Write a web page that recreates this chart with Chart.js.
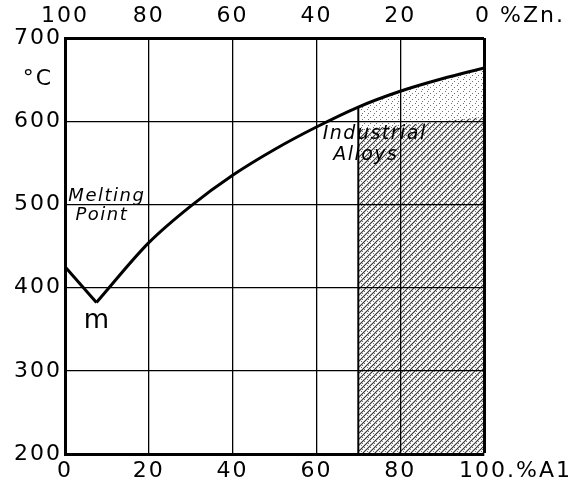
<!DOCTYPE html>
<html>
<head>
<meta charset="utf-8"/>
<title>Al-Zn melting point</title>
<script src="https://cdn.jsdelivr.net/npm/chart.js@4.4.1/dist/chart.umd.min.js"></script>
<style>
html,body{margin:0;padding:0;background:#fff;}
#wrap{width:573px;height:484px;}
</style>
</head>
<body>
<div id="wrap"><canvas id="chart"></canvas></div>
<script>
// % Al along the bottom, melting point in degrees C
var leftAl = [0, 7.5];
var leftTemp = [425, 382];
var curveAl = [7.5, 20, 30, 40, 50, 60, 70, 80, 90, 100];
var curveTemp = [382, 454, 498, 535, 566, 593, 617, 636, 651, 664];
// industrial alloys band (70 - 100 % Al)
var alloyAl = [70, 80, 90, 100];
var alloyTemp = [617, 636, 651, 664];
var hatchTop = [590, 595, 600, 605];
var xTicks = [0, 20, 40, 60, 80, 100];
var yTicks = [200, 300, 400, 500, 600, 700];

function pts(xs, ys){
  var out = [];
  for(var i = 0; i < xs.length; i++) out.push({x: xs[i], y: ys[i]});
  return out;
}

function makePattern(kind){
  var c = document.createElement('canvas');
  c.width = 6; c.height = 6;
  var g = c.getContext('2d');
  if(kind == 'hatch'){
    g.strokeStyle = 'rgba(0,0,0,0.8)';
    g.lineWidth = 1.2;
    g.beginPath();
    g.moveTo(0, 6); g.lineTo(6, 0);
    g.moveTo(-1, 1); g.lineTo(1, -1);
    g.moveTo(5, 7); g.lineTo(7, 5);
    g.stroke();
  }else{
    g.fillStyle = 'rgba(0,0,0,0.55)';
    g.fillRect(1, 1, 1, 1);
    g.fillRect(4, 3, 1, 1);
    g.fillRect(2, 5, 1, 1);
  }
  return g.createPattern(c, 'repeat');
}

var FONT = 'DejaVu Sans';
var spacing = {
  id: 'spacing',
  beforeLayout: function(chart){ chart.ctx.letterSpacing = '2px'; },
  beforeDraw: function(chart){ chart.ctx.letterSpacing = '2px'; }
};

var notes = {
  id: 'notes',
  afterDatasetsDraw: function(chart){
    var ctx = chart.ctx, x = chart.scales.x, y = chart.scales.y;
    ctx.save();
    ctx.fillStyle = '#000';
    ctx.textBaseline = 'alphabetic';
    ctx.letterSpacing = '1.5px';
    ctx.font = 'italic 18px ' + FONT;
    ctx.textAlign = 'left';
    ctx.fillText('Melting', x.getPixelForValue(0.8), y.getPixelForValue(504));
    ctx.fillText('Point', x.getPixelForValue(2.5), y.getPixelForValue(481));
    ctx.font = 'italic 19px ' + FONT;
    ctx.fillText('Industrial', x.getPixelForValue(61.5), y.getPixelForValue(579));
    ctx.fillText('Alloys', x.getPixelForValue(64), y.getPixelForValue(553));
    ctx.letterSpacing = '0px';
    ctx.font = '26px ' + FONT;
    ctx.textAlign = 'center';
    ctx.fillText('m', x.getPixelForValue(7.5), y.getPixelForValue(351));
    ctx.restore();
  }
};

new Chart(document.getElementById('chart'), {
  type: 'scatter',
  data: {
    datasets: [
      {
        data: pts(alloyAl, alloyTemp),
        showLine: true, borderWidth: 0, pointRadius: 0,
        backgroundColor: makePattern('dots'), fill: 'start'
      },
      {
        data: pts(alloyAl, hatchTop),
        showLine: true, borderWidth: 0, pointRadius: 0,
        backgroundColor: makePattern('hatch'), fill: 'start'
      },
      {
        data: pts([70, 70], [200, alloyTemp[0]]),
        showLine: true, borderColor: '#000', borderWidth: 2, pointRadius: 0
      },
      {
        data: pts(leftAl, leftTemp),
        showLine: true, borderColor: '#000', borderWidth: 3, pointRadius: 0
      },
      {
        data: pts(curveAl, curveTemp),
        showLine: true, borderColor: '#000', borderWidth: 3, pointRadius: 0,
        cubicInterpolationMode: 'monotone'
      }
    ]
  },
  options: {
    responsive: true,
    maintainAspectRatio: false,
    animation: false,
    layout: { padding: { left: 0, right: 89, top: 0, bottom: 0 } },
    plugins: { legend: { display: false }, tooltip: { enabled: false } },
    scales: {
      x: {
        type: 'linear', position: 'bottom', min: 0, max: 100,
        afterBuildTicks: function(s){ s.ticks = xTicks.map(function(v){ return {value: v}; }); },
        afterFit: function(s){ s.height = 30; s.paddingLeft = 0; s.paddingRight = 0; },
        grid: {
          color: '#000',
          lineWidth: function(c){ return c.tick && c.tick.value == 100 ? 3 : 1.3; },
          drawTicks: false
        },
        border: { color: '#000', width: 3 },
        ticks: {
          maxRotation: 0, autoSkip: false, padding: 4, color: '#000',
          font: { family: FONT, size: 22 },
          callback: function(v){ return v == 100 ? '       100.%A1' : String(v); }
        }
      },
      x2: {
        type: 'linear', position: 'top', min: 0, max: 100, reverse: true,
        afterBuildTicks: function(s){ s.ticks = xTicks.map(function(v){ return {value: v}; }); },
        afterFit: function(s){ s.height = 38; s.paddingLeft = 0; s.paddingRight = 0; },
        grid: { display: false, drawTicks: false },
        border: { display: false },
        ticks: {
          maxRotation: 0, autoSkip: false, padding: 9, color: '#000',
          font: { family: FONT, size: 22 },
          callback: function(v){ return v == 0 ? '        0 %Zn.' : String(v); }
        }
      },
      y: {
        type: 'linear', min: 200, max: 700,
        afterBuildTicks: function(s){
          s.ticks = yTicks.map(function(v){ return {value: v}; });
          s.ticks.push({value: 650});
        },
        afterFit: function(s){ s.width = 65; },
        grid: {
          color: function(c){ return c.tick && c.tick.value == 650 ? 'rgba(0,0,0,0)' : '#000'; },
          lineWidth: function(c){ return c.tick && c.tick.value == 700 ? 3 : 1.3; },
          drawTicks: false
        },
        border: { color: '#000', width: 3 },
        ticks: {
          padding: 3, color: '#000',
          font: { family: FONT, size: 22 },
          callback: function(v){ return v == 650 ? '°C ' : String(v); }
        }
      }
    }
  },
  plugins: [spacing, notes]
});
</script>
</body>
</html>
